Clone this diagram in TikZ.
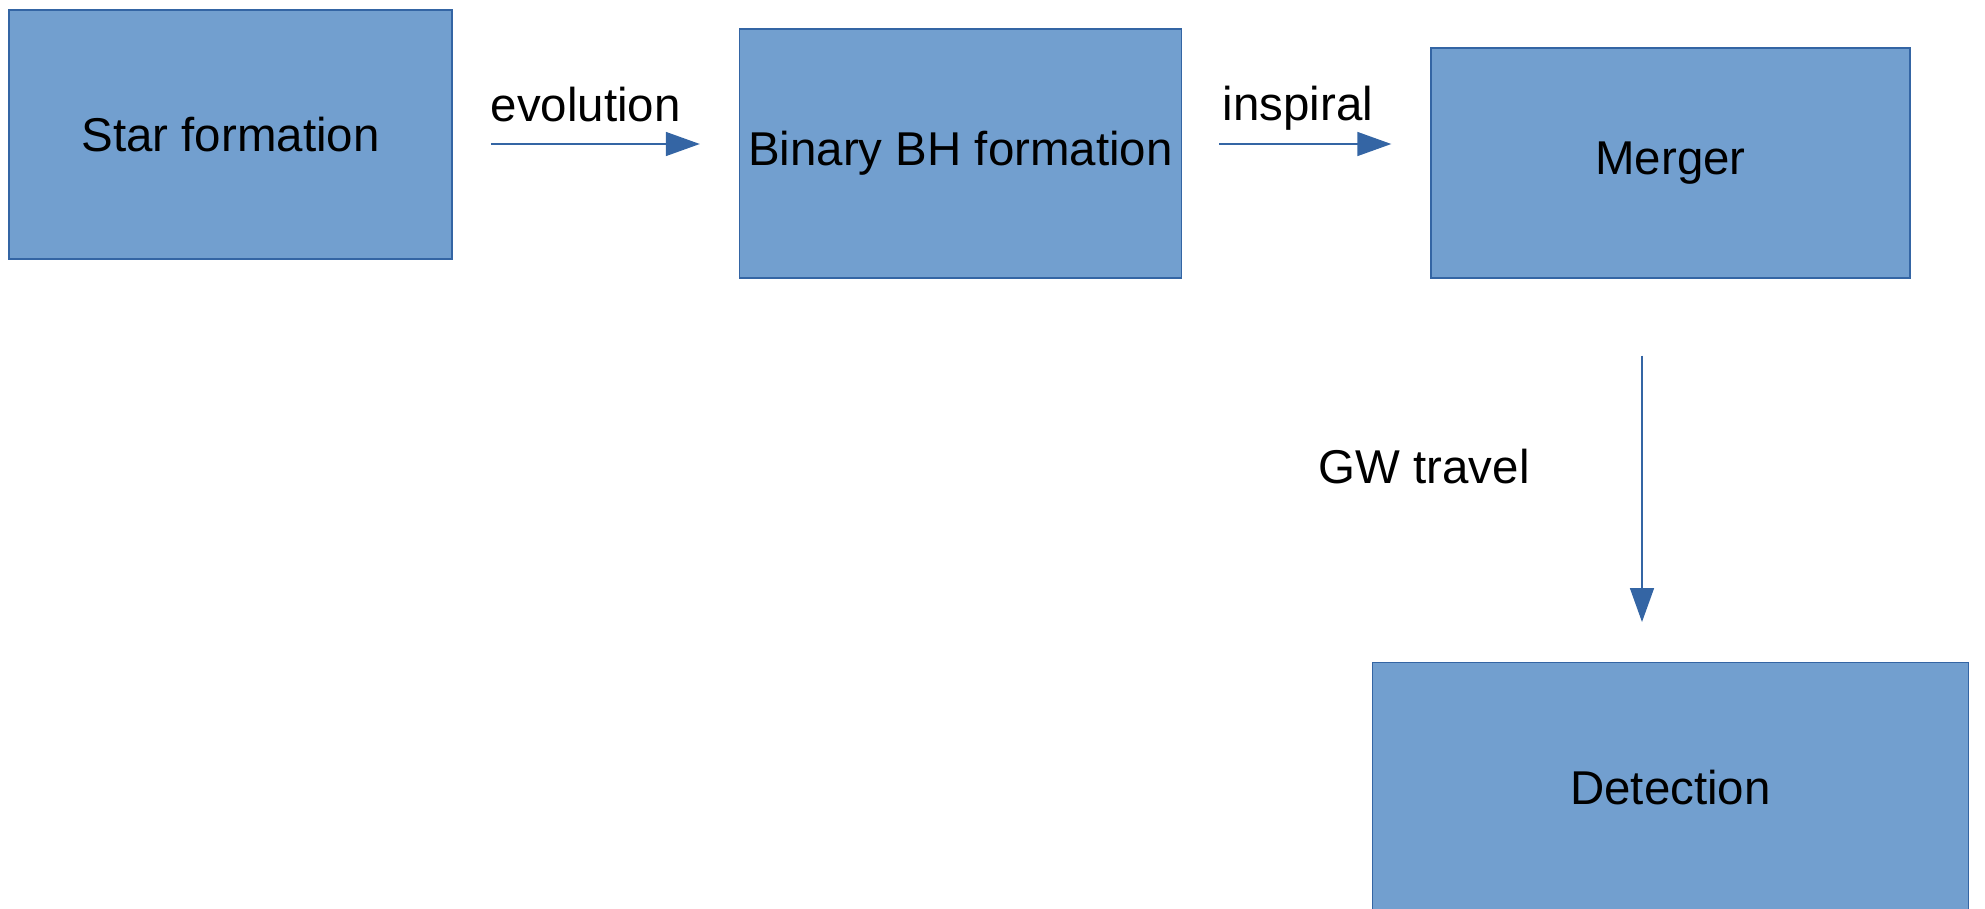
\documentclass[tikz,border=0pt]{standalone}
\usepackage{fontspec}
\setmainfont{Liberation Sans}
\usetikzlibrary{arrows.meta}
\definecolor{boxfill}{HTML}{729FCF}
\definecolor{boxline}{HTML}{3465A4}
\begin{document}
\begin{tikzpicture}[stage/.style = {draw=boxline, fill=boxfill, line width=0.4pt, inner sep=0pt, minimum height=24.9mm}, lbl/.style = {inner sep=0pt, anchor=base west}, flow/.style = {draw=boxline, line width=0.45pt, -{Triangle[length=3.4mm,width=2.4mm]}}, font=\fontsize{13.5}{16}\selectfont]
    \useasboundingbox (0,0) rectangle (19.85,-9.09);

    \node[stage] (S) at (2.306,-1.345) [minimum width=44.3mm] {Star formation};
    \node[stage] (B) [right of=S, node distance=72.99mm, yshift=-1.88mm, minimum width=44.2mm] {Binary BH formation};
    \node[stage] (M) [right of=B, node distance=71.0mm, yshift=-0.97mm, minimum width=47.9mm, minimum height=23.0mm] {Merger};
    \node[stage] (D) [below of=M, node distance=62.42mm, minimum width=59.6mm] {Detection};

    \coordinate (evo) at (0,-1.44);
    \coordinate (gw) at (16.42,0);

    \node[lbl] (evolbl) at (4.90,-1.215) {evolution};
    \node[lbl] (insplbl) at (12.22,-1.20) {inspiral};
    \node[lbl] (gwlbl) at (13.18,-4.83) {GW travel};

    \draw[flow, shorten <=3.8mm, shorten >=3.9mm] (S.east |- evo) -- (B.west |- evo);
    \draw[flow, shorten <=3.7mm, shorten >=3.9mm] (B.east |- evo) -- (M.west |- evo);
    \draw[flow, shorten <=7.7mm, shorten >=4.0mm] (M.south -| gw) -- (D.north -| gw);
\end{tikzpicture}
\end{document}
